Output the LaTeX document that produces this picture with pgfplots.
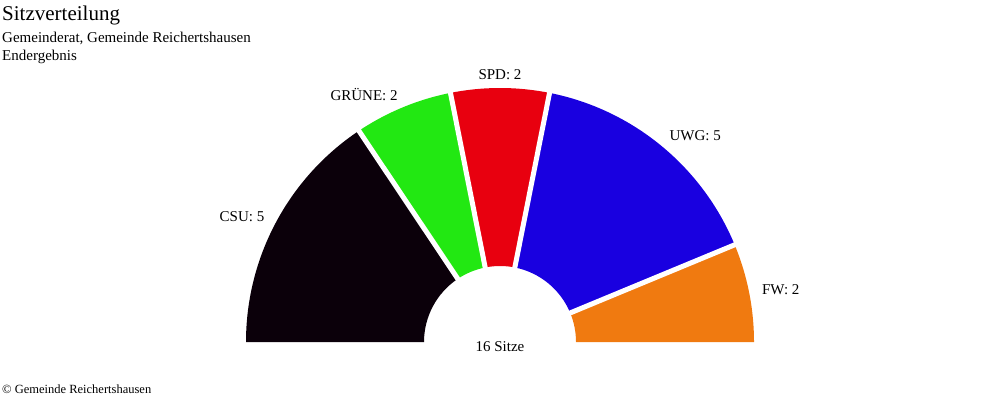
\documentclass[border=0pt]{standalone}
\usepackage{pgfplots}
\usepackage{pgfplotstable}
\pgfplotsset{compat=1.18}
\usepackage{fontspec}
\setmainfont{Liberation Serif}

\definecolor{csu}{RGB}{11,0,10}
\definecolor{gruene}{RGB}{34,232,18}
\definecolor{spd}{RGB}{232,0,15}
\definecolor{uwg}{RGB}{25,0,224}
\definecolor{fw}{RGB}{240,122,16}

\newcommand\labelfont{\fontsize{15}{18}\selectfont}

% Sitze im Gemeinderat, von links nach rechts
\pgfplotstableread[col sep=comma]{
party,seats,color
CSU,5,csu
GRÜNE,2,gruene
SPD,2,spd
UWG,5,uwg
FW,2,fw
}\sitze

\begin{document}
\begin{tikzpicture}
% Gesamtzahl der Sitze
\def\total{0}
\pgfplotstablegetrowsof{\sitze}
\pgfmathtruncatemacro\last{\pgfplotsretval-1}
\pgfplotsforeachungrouped \i in {0,...,\last}{%
  \pgfplotstablegetelem{\i}{seats}\of\sitze
  \pgfmathtruncatemacro\total{\total+\pgfplotsretval}}

\begin{axis}[
  scale only axis,
  width=1000pt, height=402pt,
  xmin=0, xmax=1000, ymin=0, ymax=402,
  enlargelimits=false,
  hide axis,
  clip=false,
]
% ganze Fläche als Bildgröße
\path (axis cs:0,0) -- (axis cs:1000,402);
% Mittelpunkt (500,60), Radien 254 und 76 (1 Einheit = 1pt)
\def\cum{0}
\pgfplotsforeachungrouped \i in {0,...,\last}{%
  \pgfplotstablegetelem{\i}{seats}\of\sitze \let\wseats\pgfplotsretval
  \pgfplotstablegetelem{\i}{color}\of\sitze \let\wcol\pgfplotsretval
  \pgfplotstablegetelem{\i}{party}\of\sitze \let\wname\pgfplotsretval
  \pgfmathsetmacro\angA{180-\cum*180/\total}
  \pgfmathsetmacro\cum{\cum+\wseats}
  \pgfmathsetmacro\angB{180-\cum*180/\total}
  \pgfmathsetmacro\angM{(\angA+\angB)/2}
  \ifdim\angM pt>90.5pt \def\anc{east}\else
    \ifdim\angM pt<89.5pt \def\anc{west}\else \def\anc{center}\fi\fi
  \edef\cmd{%
    \noexpand\fill[\wcol] (axis cs:{500+254*cos(\angA)},{60+254*sin(\angA)})
      arc[start angle=\angA, end angle=\angB, radius=254pt]
      -- (axis cs:{500+76*cos(\angB)},{60+76*sin(\angB)})
      arc[start angle=\angB, end angle=\angA, radius=76pt] -- cycle;
    \noexpand\node[anchor=\anc, inner sep=0pt, text height=9.9pt, text depth=0pt,
        font=\noexpand\labelfont]
      at (axis cs:{500+267*cos(\angM)},{60+267*sin(\angM)}) {\wname: \wseats};
  }\cmd
  \ifnum\i>0
    \edef\cmd{%
      \noexpand\draw[white, line width=5pt]
        (axis cs:{500+70*cos(\angA)},{60+70*sin(\angA)})
        -- (axis cs:{500+260*cos(\angA)},{60+260*sin(\angA)});
    }\cmd
  \fi
}
\node[anchor=base, inner sep=0pt, font=\labelfont] at (axis cs:500,51) {\total\ Sitze};

\node[anchor=base west, inner sep=0pt, font=\fontsize{21}{25}\selectfont] at (axis cs:2,381) {Sitzverteilung};
\node[anchor=base west, inner sep=0pt, font=\labelfont] at (axis cs:2,359) {Gemeinderat, Gemeinde Reichertshausen};
\node[anchor=base west, inner sep=0pt, font=\labelfont] at (axis cs:2,341) {Endergebnis};
\node[anchor=base west, inner sep=0pt, font=\fontsize{12.5}{15}\selectfont] at (axis cs:2,9) {© Gemeinde Reichertshausen};
\end{axis}
\end{tikzpicture}
\end{document}
